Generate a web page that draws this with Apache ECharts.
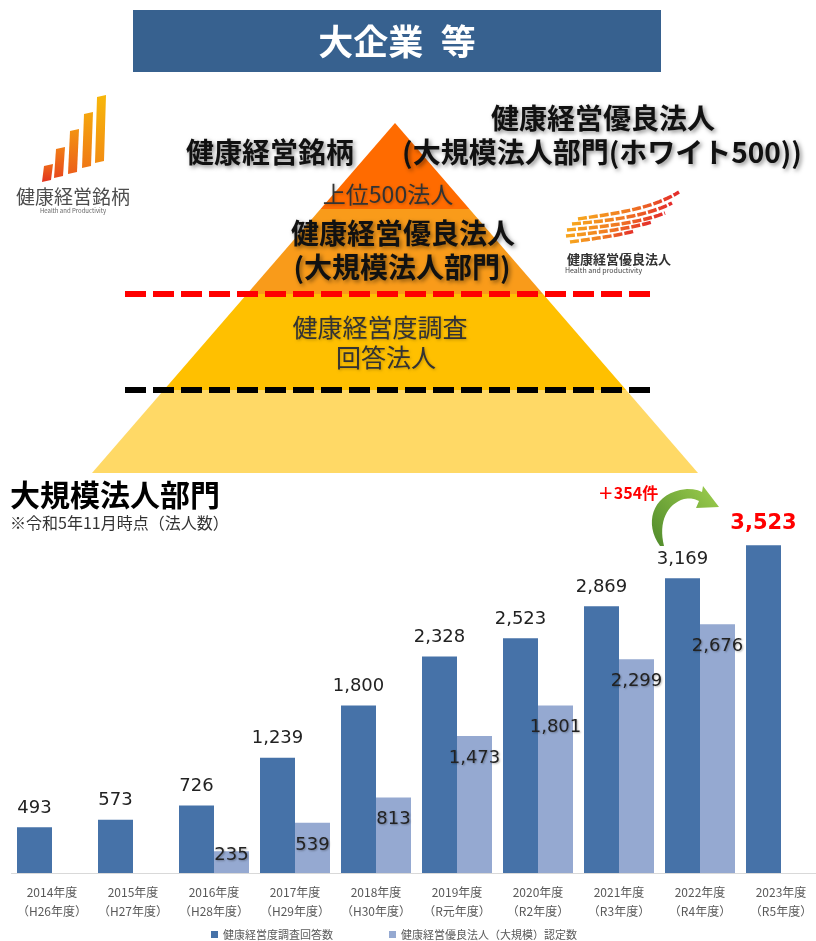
<!DOCTYPE html>
<html>
<head>
<meta charset="utf-8">
<script src="https://cdn.jsdelivr.net/npm/echarts@6/dist/echarts.min.js"></script>
<style>
html,body{margin:0;padding:0;background:#fff;}
#chart{width:816px;height:941px;}
</style>
</head>
<body>
<div id="chart"></div>
<script>
// ---- data ----
const categories = ['2014年度\n（H26年度）','2015年度\n（H27年度）','2016年度\n（H28年度）','2017年度\n（H29年度）','2018年度\n（H30年度）','2019年度\n（R元年度）','2020年度\n（R2年度）','2021年度\n（R3年度）','2022年度\n（R4年度）','2023年度\n（R5年度）'];
const surveyCounts = [493, 573, 726, 1239, 1800, 2328, 2523, 2869, 3169, 3523];
const certifiedCounts = [null, null, 235, 539, 813, 1473, 1801, 2299, 2676, null];
const seriesNames = ['健康経営度調査回答数', '健康経営優良法人（大規模）認定数'];

const CJK = '"Noto Sans CJK JP", "Noto Sans", sans-serif';
const NUM = '"DejaVu Sans", Verdana, sans-serif';

const chart = echarts.init(document.getElementById('chart'), null, {renderer: 'canvas'});

const fmt = v => Number(v).toLocaleString('en-US');
const last = surveyCounts.length - 1;
const diff = surveyCounts[last] - surveyCounts[last - 1];

// pyramid geometry
const apexX = 395, apexY = 123, baseY = 473, baseHW = 303;
const k = baseHW / (baseY - apexY);
const hw = y => k * (y - apexY);
function band(y1, y2) {
  if (y1 <= apexY) return [[apexX, apexY], [apexX + hw(y2), y2], [apexX - hw(y2), y2]];
  return [[apexX - hw(y1), y1], [apexX + hw(y1), y1], [apexX + hw(y2), y2], [apexX - hw(y2), y2]];
}
const shadow = {textShadowColor: 'rgba(0,0,0,0.45)', textShadowBlur: 4, textShadowOffsetX: 2, textShadowOffsetY: 2};
const softShadow = {textShadowColor: 'rgba(0,0,0,0.25)', textShadowBlur: 3, textShadowOffsetX: 1, textShadowOffsetY: 1};

function txt(x, y, text, size, weight, color, extra) {
  return {
    type: 'text', x: x, y: y, z: 20,
    style: Object.assign({text: text, fontSize: size, fontWeight: weight, fill: color, fontFamily: CJK, align: 'center', verticalAlign: 'middle'}, extra || {})
  };
}

// cubic bezier sampler for decorative shapes
function bez(p0, p1, p2, p3, n) {
  const pts = [];
  for (let i = 0; i <= n; i++) {
    const t = i / n, u = 1 - t;
    pts.push([
      u*u*u*p0[0] + 3*u*u*t*p1[0] + 3*u*t*t*p2[0] + t*t*t*p3[0],
      u*u*u*p0[1] + 3*u*u*t*p1[1] + 3*u*t*t*p2[1] + t*t*t*p3[1]
    ]);
  }
  return pts;
}

// logo bars (left)
const logoBars = [[42, 52, 164, 182], [54, 64, 147, 178], [68, 78, 129, 174], [82, 92, 112, 168], [95, 105, 95, 163]];
const logoColors = [['#E2321E', '#EE6A1A'], ['#E8481C', '#F17E17'], ['#EC5F1A', '#F39312'], ['#EF7816', '#F5A60E'], ['#F28C12', '#F7B70B']];
const logoEls = logoBars.map((b, i) => ({
  type: 'polygon', z: 5,
  shape: {points: [[b[0], b[3]], [b[1] - 1, b[3] - 2], [b[1] + 1, b[2]], [b[0] + 2, b[2] + 2]]},
  style: {fill: {type: 'linear', x: 0, y: 1, x2: 0, y2: 0, colorStops: [{offset: 0, color: logoColors[i][0]}, {offset: 1, color: logoColors[i][1]}]}}
}));

// wing stripes (right logo)
const wings = [
  [[578, 219], [610, 214], [650, 210], [679, 192]],
  [[572, 224], [605, 221], [645, 217], [672, 203]],
  [[567, 230], [600, 227], [640, 223], [665, 213]],
  [[566, 236], [595, 233], [628, 229], [652, 222]],
  [[570, 242], [592, 239], [615, 236], [635, 231]]
];
const wingEls = wings.map(w => ({
  type: 'polyline', z: 5,
  shape: {points: bez(w[0], w[1], w[2], w[3], 24)},
  style: {stroke: {type: 'linear', x: 0, y: 0, x2: 1, y2: 0, colorStops: [{offset: 0, color: '#F7A81E'}, {offset: 0.5, color: '#F07A22'}, {offset: 1, color: '#E3262B'}]}, lineWidth: 3.5, lineDash: [9, 2], fill: null}
}));

// green curved arrow
const arrowPts = []
  .concat(bez([660, 546], [644, 524], [652, 496], [680, 490], 16))
  .concat(bez([680, 490], [690, 488], [697, 489], [702, 492], 4).slice(1))
  .concat([[703, 486], [719, 507], [696, 508], [699, 501]])
  .concat(bez([699, 501], [693, 498], [689, 498], [684, 499], 4).slice(1))
  .concat(bez([684, 499], [667, 504], [658, 522], [664, 546], 16).slice(1));

const graphics = [
  {type: 'rect', z: 1, shape: {x: 133, y: 10, width: 528, height: 62}, style: {fill: '#37618F'}},
  txt(397, 42, '大企業\u2002等', 35, 'bold', '#FFFFFF'),
  // pyramid bands
  {type: 'polygon', z: 2, shape: {points: band(390, baseY)}, style: {fill: '#FFD966'}},
  {type: 'polygon', z: 2, shape: {points: band(294, 390)}, style: {fill: '#FFC000'}},
  {type: 'polygon', z: 2, shape: {points: band(209, 294)}, style: {fill: '#F99B1A'}},
  {type: 'polygon', z: 2, shape: {points: band(apexY, 209)}, style: {fill: '#FF6B00'}},
  {type: 'line', z: 3, shape: {x1: 125, y1: 294, x2: 656, y2: 294}, style: {stroke: '#FF0000', lineWidth: 6, lineDash: [21, 7]}},
  {type: 'line', z: 3, shape: {x1: 125, y1: 390, x2: 656, y2: 390}, style: {stroke: '#000000', lineWidth: 6, lineDash: [21, 7]}},
  txt(270, 152, '健康経営銘柄', 28, 'bold', '#111', shadow),
  txt(603, 118, '健康経営優良法人', 28, 'bold', '#111', shadow),
  txt(602, 152, '(大規模法人部門(ホワイト500))', 28, 'bold', '#111', shadow),
  txt(388, 194, '上位500法人', 23, 'normal', '#333', softShadow),
  txt(403, 233, '健康経営優良法人', 28, 'bold', '#111', shadow),
  txt(402, 267, '(大規模法人部門)', 28, 'bold', '#111', shadow),
  txt(380, 327, '健康経営度調査', 25, 'normal', '#333', softShadow),
  txt(386, 357, '回答法人', 25, 'normal', '#333', softShadow),
  // logos text
  txt(73, 197, '健康経営銘柄', 19, 'normal', '#4D4D4D'),
  txt(73, 211, 'Health and Productivity', 6, 'normal', '#666'),
  txt(619, 259, '健康経営優良法人', 13, 'bold', '#333'),
  txt(565, 270, 'Health and productivity', 7, 'normal', '#444', {align: 'left'}),
  // section title
  txt(10, 495, '大規模法人部門', 30, 'bold', '#000', {align: 'left'}),
  txt(10, 523, '※令和5年11月時点（法人数）', 16, 'normal', '#333', {align: 'left'}),
  txt(628, 493, '＋' + diff + '件', 16, 'bold', '#FF0000'),
  {type: 'polygon', z: 10, shape: {points: arrowPts}, style: {fill: {type: 'linear', x: 0, y: 1, x2: 1, y2: 0, colorStops: [{offset: 0, color: '#4F8A2B'}, {offset: 1, color: '#9FCF4E'}]}}}
].concat(logoEls, wingEls);

const option = {
  backgroundColor: '#fff',
  animation: false,
  textStyle: {fontFamily: CJK},
  grid: {left: 11.5, width: 810, top: 501, bottom: 68, containLabel: false, outerBoundsMode: 'none'},
  legend: {
    data: seriesNames, left: 211, top: 929, icon: 'rect', itemWidth: 7, itemHeight: 7, itemGap: 56,
    textStyle: {fontSize: 11, color: '#595959', fontFamily: CJK}, padding: 0
  },
  xAxis: {
    type: 'category', data: categories,
    axisLine: {lineStyle: {color: '#D9D9D9', width: 1}},
    axisTick: {show: false},
    axisLabel: {color: '#595959', fontSize: 12, lineHeight: 19, margin: 10, fontFamily: CJK, interval: 0}
  },
  yAxis: {type: 'value', min: 0, max: 4000, show: false, splitLine: {show: false}},
  series: [
    {
      name: seriesNames[0], type: 'bar', barWidth: 35, barGap: '0%',
      itemStyle: {color: '#4672A8'},
      label: {show: true, position: 'top', distance: 10, fontSize: 18, color: '#222', fontFamily: NUM, formatter: p => fmt(p.value)},
      data: surveyCounts.map((v, i) => i === last
        ? {value: v, label: {color: '#FF0000', fontSize: 21, fontWeight: 'bold', distance: 11}}
        : v)
    },
    {
      name: seriesNames[1], type: 'bar', barWidth: 35,
      itemStyle: {color: '#95A9D1'},
      label: {show: true, position: 'insideTop', distance: 13, fontSize: 18, color: '#222', fontFamily: NUM,
        textShadowColor: 'rgba(0,0,0,0.3)', textShadowBlur: 2, textShadowOffsetX: 1, textShadowOffsetY: 1,
        formatter: p => fmt(p.value)},
      data: certifiedCounts.map((v, i) => v === null ? '-'
        : (i === 2 ? {value: v, label: {position: 'top', distance: -13}} : v))
    }
  ],
  graphic: {elements: graphics}
};
chart.setOption(option);
</script>
</body>
</html>
